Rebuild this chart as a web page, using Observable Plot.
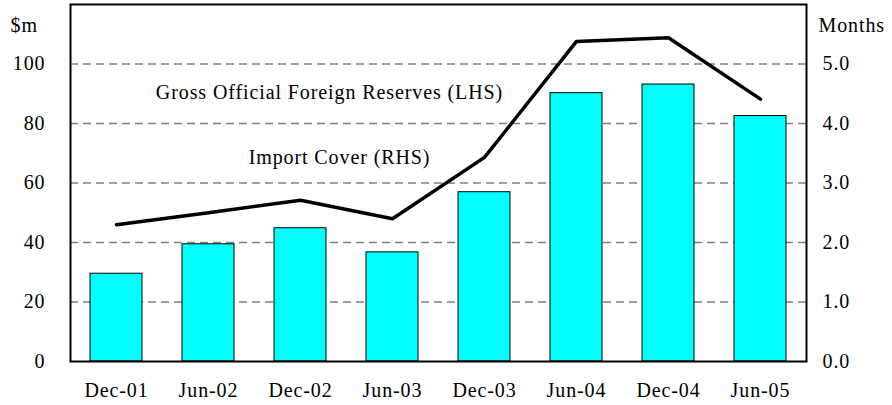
<!DOCTYPE html>
<html>
<head>
<meta charset="utf-8">
<script src="https://cdn.jsdelivr.net/npm/d3@7"></script>
<script src="https://cdn.jsdelivr.net/npm/@observablehq/plot@0.6"></script>
<style>
  html, body { margin: 0; padding: 0; background: #fff; }
  #chart svg { display: block; }
  #chart svg text { letter-spacing: 0.9px; }
</style>
</head>
<body>
<div id="chart"></div>
<script>
const periods = ["Dec-01", "Jun-02", "Dec-02", "Jun-03", "Dec-03", "Jun-04", "Dec-04", "Jun-05"];
const reserves = [29.5, 39.4, 44.8, 36.7, 56.9, 90.2, 93.1, 82.5];      // $m (LHS)
const importCover = [2.30, 2.50, 2.71, 2.40, 3.43, 5.38, 5.44, 4.41];   // months (RHS)
const leftTicks = [0, 20, 40, 60, 80, 100];
const rightTicks = [0, 1, 2, 3, 4, 5];
const gridTicks = [20, 40, 60, 80, 100];
const ratio = 20; // 1 month on the RHS = 20 $m on the LHS

const rows = periods.map((p, i) => ({period: p, reserves: reserves[i], cover: importCover[i]}));

const font = "Liberation Serif, Times New Roman, serif";
const fs = 20;

const chart = Plot.plot({
  width: 892,
  height: 405,
  marginLeft: 70,
  marginRight: 86,
  marginTop: 4,
  marginBottom: 44,
  style: {fontFamily: font, fontSize: fs + "px", color: "#000", background: "#fff"},
  x: {domain: periods, paddingInner: 0.44, paddingOuter: 0.22, label: null},
  y: {domain: [0, 120], label: null},
  marks: [
    Plot.ruleY(gridTicks, {stroke: "#808080", strokeWidth: 1.5, strokeDasharray: "8,5"}),
    Plot.barY(rows, {x: "period", y: "reserves", fill: "#00FFFF", stroke: "#000", strokeWidth: 1}),
    Plot.lineY(rows, {x: "period", y: d => d.cover * ratio, stroke: "#000", strokeWidth: 3.5}),
    Plot.frame({stroke: "#000", strokeWidth: 2}),
    Plot.axisX({tickSize: 0, tickPadding: 21, fontSize: fs, label: null}),
    Plot.axisY(leftTicks, {anchor: "left", tickSize: 0, tickPadding: 25, fontSize: fs, label: null}),
    Plot.axisY(rightTicks.map(d => d * ratio), {anchor: "right", tickSize: 0, tickPadding: 16, fontSize: fs, label: null,
      tickFormat: d => (d / ratio).toFixed(1)}),
    Plot.text(["Gross Official Foreign Reserves (LHS)"], {x: () => "Dec-02", y: () => 90.4, dx: 29, text: d => d, fontSize: fs, fill: "#000"}),
    Plot.text(["Import Cover (RHS)"], {x: () => "Dec-02", y: () => 68.6, dx: 39, text: d => d, fontSize: fs, fill: "#000"}),
    Plot.text(["$m"], {frameAnchor: "top-left", dx: -60, dy: 13, textAnchor: "start", text: d => d, fontSize: fs, fill: "#000"}),
    Plot.text(["Months"], {frameAnchor: "top-right", dx: 12, dy: 13, textAnchor: "start", text: d => d, fontSize: fs, fill: "#000"})
  ]
});
document.getElementById("chart").appendChild(chart);
</script>
</body>
</html>
